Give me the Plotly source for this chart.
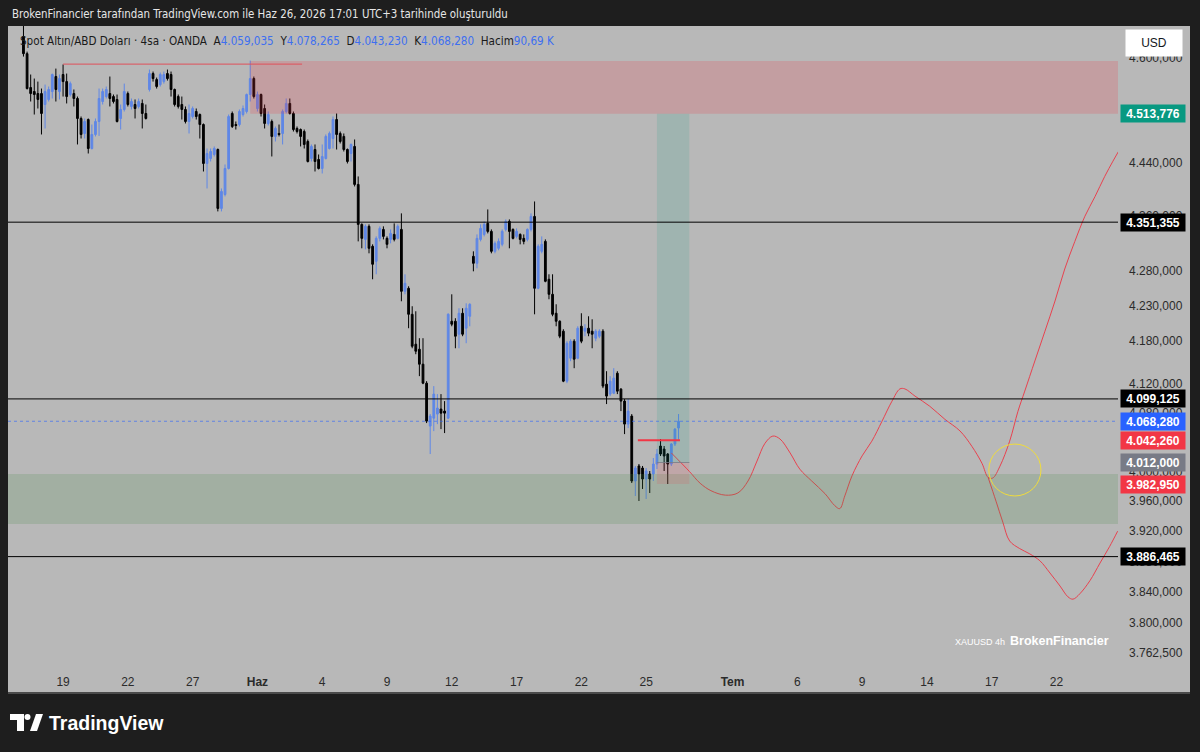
import math
import plotly.graph_objects as go

# ---------------- data (XAUUSD 4h, OANDA) ----------------
opens = [
    4632.9, 4606.3, 4553.8, 4547.7, 4544.6, 4544.6, 4527.8, 4535.5, 4547.7, 4570.8,
    4547.7, 4573.9, 4563.0, 4543.1, 4544.6, 4537.0, 4506.5, 4483.7, 4504.9, 4461.0,
    4482.2, 4501.9, 4532.4, 4540.0, 4544.6, 4540.0, 4535.5, 4506.5, 4520.2, 4544.6,
    4524.8, 4527.8, 4524.8, 4529.4, 4514.1, 4550.8, 4575.4, 4566.1, 4558.4, 4563.0,
    4575.4, 4573.9, 4550.8, 4540.0, 4527.8, 4520.2, 4501.9, 4509.5, 4517.1, 4512.5,
    4497.3, 4438.5, 4446.0, 4452.0, 4459.5, 4371.6, 4392.3, 4431.0, 4514.1, 4497.3,
    4497.3, 4512.5, 4517.1, 4543.1, 4567.7, 4521.7, 4543.1, 4521.7, 4498.9, 4501.9,
    4479.2, 4483.7, 4483.7, 4517.1, 4529.4, 4514.1, 4491.3, 4489.7, 4486.7, 4471.6,
    4446.0, 4459.5, 4444.5, 4431.0, 4446.0, 4461.0, 4476.1, 4504.9, 4483.7, 4479.2,
    4459.5, 4453.5, 4464.1, 4407.2, 4348.1, 4326.1, 4345.2, 4316.0, 4294.2, 4327.6,
    4340.7, 4327.6, 4326.1, 4333.4, 4327.6, 4340.7, 4250.9, 4255.2, 4218.0, 4175.6,
    4168.5, 4147.5, 4121.0, 4061.7, 4072.6, 4078.2, 4085.1, 4082.3, 4072.6, 4208.1,
    4208.1, 4189.7, 4219.5, 4198.2, 4215.2, 4301.4, 4291.3, 4326.1, 4333.4, 4349.6,
    4337.8, 4308.7, 4313.1, 4318.9, 4340.7, 4352.5, 4340.7, 4330.5, 4333.4, 4327.6,
    4326.1, 4340.7, 4359.8, 4255.2, 4308.7, 4323.2, 4268.2, 4246.6, 4219.5, 4208.1,
    4194.0, 4123.8, 4155.9, 4179.8, 4155.9, 4201.0, 4194.0, 4198.2, 4194.0, 4184.1,
    4186.9, 4194.0, 4119.6, 4105.8, 4107.1, 4134.9, 4112.7, 4096.1, 4064.4, 4075.4,
    3987.0, 4007.3, 4004.5, 3989.7, 3996.5, 3996.5, 4009.9, 4034.4, 4030.3, 4023.5,
    4009.9, 4037.1, 4059.035,
]
highs = [
    4660.0, 4609.4, 4573.9, 4567.7, 4563.0, 4552.3, 4558.4, 4555.4, 4575.4, 4583.1,
    4573.9, 4589.4, 4575.4, 4563.0, 4550.8, 4540.0, 4509.5, 4506.5, 4506.5, 4497.3,
    4506.5, 4552.3, 4552.3, 4555.4, 4570.8, 4543.1, 4543.1, 4527.8, 4559.9, 4547.7,
    4537.0, 4535.5, 4537.0, 4535.5, 4527.8, 4581.6, 4578.5, 4569.2, 4577.0, 4578.5,
    4581.6, 4578.5, 4552.3, 4543.1, 4540.0, 4524.8, 4527.8, 4524.8, 4521.7, 4514.1,
    4498.9, 4461.0, 4461.0, 4464.1, 4461.0, 4401.2, 4437.0, 4512.5, 4517.1, 4501.9,
    4520.2, 4526.3, 4544.6, 4595.5, 4570.8, 4547.7, 4544.6, 4527.8, 4517.1, 4504.9,
    4494.3, 4497.3, 4520.2, 4537.0, 4537.0, 4517.1, 4494.3, 4491.3, 4489.7, 4474.6,
    4467.1, 4467.1, 4452.0, 4467.1, 4482.2, 4486.7, 4509.5, 4514.1, 4486.7, 4483.7,
    4461.0, 4468.6, 4474.6, 4419.1, 4349.6, 4348.1, 4348.1, 4318.9, 4330.5, 4345.2,
    4345.2, 4330.5, 4340.7, 4349.6, 4348.1, 4364.3, 4275.4, 4258.1, 4229.5, 4222.3,
    4184.1, 4184.1, 4123.8, 4078.2, 4116.9, 4105.8, 4105.8, 4096.1, 4219.5, 4246.6,
    4212.4, 4226.6, 4226.6, 4233.7, 4233.7, 4308.7, 4333.4, 4348.1, 4352.5, 4370.1,
    4340.7, 4323.2, 4327.6, 4340.7, 4355.4, 4355.4, 4342.2, 4342.2, 4334.9, 4333.4,
    4342.2, 4364.3, 4381.9, 4318.9, 4330.5, 4326.1, 4275.4, 4275.4, 4232.3, 4209.5,
    4196.8, 4179.8, 4182.6, 4182.6, 4201.0, 4219.5, 4203.9, 4215.2, 4210.9, 4196.8,
    4196.8, 4196.8, 4137.7, 4130.8, 4141.9, 4137.7, 4114.1, 4098.9, 4098.9, 4078.2,
    4007.3, 4010.0, 4007.3, 4004.5, 4000.5, 4018.1, 4030.3, 4043.9, 4034.4, 4024.9,
    4038.5, 4058.9, 4078.265,
]
lows = [
    4601.7, 4550.8, 4532.4, 4512.5, 4521.7, 4482.2, 4491.3, 4532.4, 4537.0, 4532.4,
    4535.5, 4540.0, 4529.4, 4540.0, 4524.8, 4467.1, 4476.1, 4476.1, 4453.5, 4459.5,
    4479.2, 4480.0, 4527.8, 4537.0, 4524.8, 4529.4, 4500.4, 4489.7, 4517.1, 4524.8,
    4520.2, 4506.5, 4521.7, 4491.3, 4504.9, 4547.7, 4563.0, 4552.3, 4555.4, 4559.9,
    4564.6, 4540.0, 4524.8, 4521.7, 4504.9, 4498.9, 4483.7, 4506.5, 4504.9, 4476.1,
    4426.5, 4401.2, 4441.5, 4449.0, 4367.2, 4367.2, 4389.4, 4429.5, 4492.0, 4489.7,
    4494.3, 4509.5, 4514.1, 4532.4, 4537.0, 4517.1, 4509.5, 4491.3, 4495.8, 4449.0,
    4471.6, 4479.2, 4467.1, 4514.1, 4512.5, 4486.7, 4483.7, 4464.1, 4461.0, 4440.0,
    4441.5, 4426.5, 4429.5, 4423.5, 4444.5, 4459.5, 4461.0, 4459.5, 4468.6, 4456.5,
    4438.5, 4441.5, 4404.2, 4323.2, 4313.1, 4311.6, 4305.8, 4268.2, 4275.4, 4323.2,
    4326.1, 4313.1, 4320.3, 4323.2, 4326.1, 4236.6, 4246.6, 4198.2, 4169.9, 4161.5,
    4130.8, 4119.6, 4065.8, 4023.5, 4054.8, 4064.4, 4057.5, 4052.1, 4071.2, 4201.0,
    4169.9, 4169.9, 4186.9, 4177.0, 4201.0, 4279.7, 4284.0, 4323.2, 4330.5, 4334.9,
    4305.8, 4305.8, 4310.2, 4316.0, 4337.8, 4313.1, 4326.1, 4327.6, 4318.9, 4318.9,
    4323.2, 4337.8, 4218.0, 4253.8, 4305.8, 4263.9, 4239.5, 4215.2, 4201.0, 4184.1,
    4122.4, 4121.0, 4151.7, 4141.9, 4154.5, 4177.0, 4186.9, 4186.9, 4169.9, 4179.8,
    4184.1, 4114.1, 4092.0, 4103.0, 4105.8, 4105.8, 4082.3, 4050.7, 4058.9, 3984.3,
    3966.9, 3960.2, 3976.3, 3962.9, 3970.9, 3987.0, 4003.2, 4020.8, 4000.5, 3983.0,
    4007.3, 4034.4, 4043.23,
]
closes = [
    4606.3, 4552.3, 4544.6, 4543.1, 4535.5, 4514.1, 4547.7, 4550.8, 4573.9, 4550.8,
    4567.7, 4563.0, 4540.0, 4559.9, 4537.0, 4506.5, 4482.2, 4501.9, 4461.0, 4482.2,
    4501.9, 4537.0, 4547.7, 4550.8, 4537.0, 4532.4, 4501.9, 4520.2, 4547.7, 4527.8,
    4532.4, 4521.7, 4532.4, 4514.1, 4506.5, 4575.4, 4567.7, 4555.4, 4573.9, 4573.9,
    4567.7, 4550.8, 4527.8, 4524.8, 4520.2, 4501.9, 4514.1, 4521.7, 4509.5, 4497.3,
    4438.5, 4453.5, 4456.5, 4461.0, 4371.6, 4396.8, 4431.0, 4509.5, 4494.3, 4495.8,
    4517.1, 4521.7, 4543.1, 4567.7, 4540.0, 4543.1, 4514.1, 4498.9, 4512.5, 4479.2,
    4491.3, 4482.2, 4517.1, 4529.4, 4514.1, 4489.7, 4486.7, 4479.2, 4467.1, 4441.5,
    4464.1, 4441.5, 4431.0, 4449.0, 4479.2, 4483.7, 4504.9, 4482.2, 4471.6, 4459.5,
    4441.5, 4467.1, 4407.2, 4348.1, 4327.6, 4345.2, 4313.1, 4289.9, 4327.6, 4342.2,
    4330.5, 4318.9, 4334.9, 4326.1, 4345.2, 4250.9, 4262.4, 4218.0, 4172.7, 4165.7,
    4147.5, 4121.0, 4068.5, 4075.4, 4105.8, 4086.4, 4079.5, 4079.5, 4218.0, 4203.9,
    4186.9, 4219.5, 4189.7, 4226.6, 4232.3, 4291.3, 4327.6, 4342.2, 4348.1, 4337.8,
    4308.7, 4320.3, 4323.2, 4337.8, 4352.5, 4337.8, 4327.6, 4337.8, 4326.1, 4323.2,
    4340.7, 4359.8, 4255.2, 4316.0, 4318.9, 4265.3, 4246.6, 4218.0, 4208.1, 4186.9,
    4123.8, 4177.0, 4179.8, 4154.5, 4198.2, 4179.8, 4198.2, 4191.2, 4189.7, 4194.0,
    4194.0, 4116.9, 4103.0, 4123.8, 4128.0, 4109.9, 4096.1, 4064.4, 4082.3, 3987.0,
    4004.5, 3996.5, 3989.7, 4000.5, 3989.7, 4009.9, 4023.5, 4023.5, 4020.8, 4009.9,
    4037.1, 4057.5, 4068.28,
]
assert len(opens) == len(highs) == len(lows) == len(closes)
bar_index = list(range(len(closes)))
volume_text = "90,69 K"

# x-axis: trading-day labels (6 bars per trading day, first labelled day starts at bar 11)
first_day_bar = 11
bars_per_day = 6
tick_days = [0, 3, 6, 9, 12, 15, 18, 21, 24, 27, 31, 34, 37, 40, 43, 46]
tick_labels = ["19", "22", "27", "<b>Haz</b>", "4", "9", "12", "17", "22", "25",
               "<b>Tem</b>", "6", "9", "14", "17", "22"]
x_range = [-4.3, 304.1]

# y-axis (log scale)
price_ticks = [4600, 4520, 4440, 4360, 4280, 4230, 4180, 4120, 4080, 4000,
               3960, 3920, 3880, 3840, 3800, 3762.5]
y_range_prices = [3740.4, 4649.5]

# drawings
levels = [4351.355, 4099.125, 3886.465]
supply_zone = [63, 4513.776, 4595.0]          # start bar, low, high
supply_line = [11, 77.4, 4590.0]              # start bar, end bar, price
demand_zone = [3929.6, 3996.5]
position_bars = [176, 185]
entry_price, target_price, stop_price = 4012.0, 4513.776, 3982.95
mark_line = [170.7, 182.4, 4042.26]
last_price = 4068.28
circle_box = [268.2, 282.7, 3966.9, 4037.1]

proj_x = [180, 185, 188, 191, 195, 198.5, 201.3, 203.8, 206, 208.2, 210.2, 213, 215.7,
          219, 222.7, 225.4, 226.8, 228.2, 230.2, 233, 235.7, 238.5, 241.3, 243.5, 244.9,
          247.7, 251.8, 256, 260.2, 263.5, 266.3, 268, 269.3, 271.3, 274, 276.3, 278.2,
          281, 283.8, 286.6, 289.3, 292.1, 294.9, 297.7, 300.4, 302.7, 304.6]
proj_y = [4025, 4000, 3984, 3974, 3968, 3971, 3987, 4014, 4038, 4048, 4044, 4025, 4003,
          3987, 3970, 3954, 3950, 3967, 3994, 4021, 4041, 4068, 4096, 4113, 4113,
          4103, 4089, 4071, 4055, 4034, 4011, 3992, 3991, 4007, 4041, 4082, 4110,
          4152, 4194, 4237, 4283, 4323, 4360, 4389, 4419, 4442, 4460]
alt_x = [268, 270.2, 272.1, 274, 276.8, 279.6, 282.4, 285.2, 288, 290.2, 291.6, 293.5,
         296.3, 299.1, 301.8, 304]
alt_y = [3992, 3960, 3932, 3907, 3897, 3890, 3881, 3865, 3848, 3834, 3831, 3838,
         3855, 3878, 3900, 3920]

price_tags = [
    (4513.776, "#089981"), (4351.355, "#000000"), (4099.125, "#000000"),
    (4068.28, "#2962ff"), (4042.26, "#f23645"), (4012.0, "#787b86"),
    (3982.95, "#f23645"), (3886.465, "#000000"),
]

# ---------------- styling ----------------
BG = "#1e1e1e"
PANEL = "#b8b8b8"
BULL = "#5f87e6"
BEAR = "#000000"
FONT = "Liberation Sans, Arial, sans-serif"
NARROW = "Liberation Sans Narrow, DejaVu Sans Condensed, Roboto, sans-serif"

PL, PR, PT, PB = 8, 1118, 26, 670   # plot area in pixels
def px(x):
    return (x - PL) / (PR - PL)
def py(y):
    return (PB - y) / (PB - PT)

def tr(v):
    s = f"{v:,.3f}"
    return s.replace(",", "X").replace(".", ",").replace("X", ".")

fig = go.Figure()

fig.add_trace(go.Candlestick(
    x=bar_index, open=opens, high=highs, low=lows, close=closes,
    increasing=dict(line=dict(color=BULL, width=1), fillcolor=BULL),
    decreasing=dict(line=dict(color=BEAR, width=1), fillcolor=BEAR),
    whiskerwidth=0, showlegend=False, hoverinfo="skip",
))
fig.add_trace(go.Scatter(x=proj_x, y=proj_y, mode="lines",
                         line=dict(color="#e8424f", width=1, shape="spline"),
                         hoverinfo="skip", showlegend=False))
fig.add_trace(go.Scatter(x=alt_x, y=alt_y, mode="lines",
                         line=dict(color="#e8424f", width=1, shape="spline"),
                         hoverinfo="skip", showlegend=False))

shapes = []
# background panel
shapes.append(dict(type="rect", xref="paper", yref="paper", layer="below",
                   x0=px(8), x1=px(1190), y0=py(693), y1=py(26),
                   fillcolor=PANEL, line=dict(width=0)))
shapes.append(dict(type="line", xref="paper", yref="paper", layer="below",
                   x0=px(8), x1=px(1190), y0=py(693), y1=py(693),
                   line=dict(color="#4a4a4a", width=2)))
# zones
shapes.append(dict(type="rect", xref="x", yref="y", x0=supply_zone[0], x1=320,
                   y0=supply_zone[1], y1=supply_zone[2],
                   fillcolor="rgba(242,54,69,0.2)", line=dict(width=0)))
shapes.append(dict(type="line", xref="x", yref="y", x0=supply_line[0], x1=supply_line[1],
                   y0=supply_line[2], y1=supply_line[2],
                   line=dict(color="#e0505a", width=1)))
shapes.append(dict(type="rect", xref="x", yref="y", x0=-10, x1=320,
                   y0=demand_zone[0], y1=demand_zone[1],
                   fillcolor="rgba(76,140,76,0.2)", line=dict(width=0)))
# position tool
shapes.append(dict(type="rect", xref="x", yref="y", x0=position_bars[0], x1=position_bars[1],
                   y0=entry_price, y1=target_price,
                   fillcolor="rgba(8,153,129,0.14)", line=dict(width=0)))
shapes.append(dict(type="rect", xref="x", yref="y", x0=position_bars[0], x1=position_bars[1],
                   y0=stop_price, y1=entry_price,
                   fillcolor="rgba(242,54,69,0.14)", line=dict(width=0)))
shapes.append(dict(type="line", xref="x", yref="y", x0=position_bars[0], x1=position_bars[1],
                   y0=entry_price, y1=entry_price,
                   line=dict(color="rgba(120,123,134,0.8)", width=1)))
# horizontal levels
for lv in levels:
    shapes.append(dict(type="line", xref="paper", yref="y", x0=0, x1=1, y0=lv, y1=lv,
                       line=dict(color="#000000", width=1)))
shapes.append(dict(type="line", xref="paper", yref="y", x0=0, x1=1,
                   y0=last_price, y1=last_price,
                   line=dict(color="rgba(41,98,255,0.6)", width=1, dash="dot")))
shapes.append(dict(type="line", xref="x", yref="y", x0=mark_line[0], x1=mark_line[1],
                   y0=mark_line[2], y1=mark_line[2],
                   line=dict(color="#f23645", width=2)))
shapes.append(dict(type="circle", xref="x", yref="y",
                   x0=circle_box[0], x1=circle_box[1], y0=circle_box[2], y1=circle_box[3],
                   line=dict(color="#f0dc3c", width=1)))
# TradingView logo
def path(points):
    return "M " + " L ".join(f"{px(a):.5f},{py(b):.5f}" for a, b in points) + " Z"
shapes.append(dict(type="path", xref="paper", yref="paper",
                   path=path([(10, 714), (24, 714), (24, 731), (17, 731), (17, 720), (10, 720)]),
                   fillcolor="#ffffff", line=dict(width=0)))
shapes.append(dict(type="circle", xref="paper", yref="paper",
                   x0=px(24.5), x1=px(30.5), y0=py(720), y1=py(714),
                   fillcolor="#ffffff", line=dict(width=0)))
shapes.append(dict(type="path", xref="paper", yref="paper",
                   path=path([(30, 731), (37, 731), (43, 714), (36, 714)]),
                   fillcolor="#ffffff", line=dict(width=0)))

annotations = []
for p, col in price_tags:
    annotations.append(dict(x=px(1153), xref="paper", y=math.log10(p), yref="y",
                            text=f"<b>{tr(p)}</b>", showarrow=False, bgcolor=col,
                            font=dict(color="#ffffff", size=12, family=FONT),
                            width=62, height=15, borderpad=1,
                            xanchor="center", yanchor="middle"))
annotations.append(dict(x=px(1154), xref="paper", y=py(43), yref="paper",
                        text="USD", showarrow=False, bgcolor="#ffffff",
                        font=dict(color="#131722", size=12, family=FONT),
                        width=54, height=24, borderpad=1, xanchor="center", yanchor="middle"))
annotations.append(dict(x=px(10), xref="paper", y=py(14), yref="paper",
                        text="BrokenFinancier tarafından TradingView.com ile Haz 26, 2026 17:01 UTC+3 tarihinde oluşturuldu",
                        showarrow=False, xanchor="left", yanchor="middle",
                        font=dict(color="#e6e6e6", size=11.4, family=NARROW)))
blue = "#3d6ff0"
legend_txt = (
    "Spot Altın/ABD Doları · 4sa · OANDA  "
    f"A<span style='color:{blue}'>{tr(opens[-1])}</span>  "
    f"Y<span style='color:{blue}'>{tr(highs[-1])}</span>  "
    f"D<span style='color:{blue}'>{tr(lows[-1])}</span>  "
    f"K<span style='color:{blue}'>{tr(closes[-1])}</span>  "
    f"Hacim<span style='color:{blue}'>{volume_text}</span>"
)
annotations.append(dict(x=px(18), xref="paper", y=py(41), yref="paper",
                        text=legend_txt, showarrow=False, xanchor="left", yanchor="middle",
                        font=dict(color="#1a1a1a", size=11.6, family=NARROW)))
annotations.append(dict(x=px(953), xref="paper", y=py(642), yref="paper",
                        text="XAUUSD 4h", showarrow=False, xanchor="left", yanchor="middle",
                        font=dict(color="#ffffff", size=9, family=FONT)))
annotations.append(dict(x=px(1008), xref="paper", y=py(641), yref="paper",
                        text="<b>BrokenFinancier</b>", showarrow=False, xanchor="left",
                        yanchor="middle", font=dict(color="#ffffff", size=12.5, family=FONT)))
annotations.append(dict(x=px(47), xref="paper", y=py(723), yref="paper",
                        text="<b>TradingView</b>", showarrow=False, xanchor="left",
                        yanchor="middle", font=dict(color="#ffffff", size=19.5, family=FONT)))

fig.update_layout(
    width=1200, height=752,
    margin=dict(l=PL, r=1200 - PR, t=PT, b=752 - PB, pad=0),
    paper_bgcolor=BG, plot_bgcolor=PANEL,
    separators=",.",
    showlegend=False, hovermode=False,
    font=dict(family=FONT, color="#2b2b2b", size=12),
    shapes=shapes, annotations=annotations,
    xaxis=dict(range=x_range, tickvals=[first_day_bar + bars_per_day * d for d in tick_days],
               ticktext=tick_labels, showgrid=False, zeroline=False, showline=False,
               ticks="", rangeslider=dict(visible=False), ticklabelstandoff=3,
               tickfont=dict(size=12, color="#2b2b2b", family=FONT), fixedrange=True),
    yaxis=dict(type="log", side="right",
               range=[math.log10(y_range_prices[0]), math.log10(y_range_prices[1])],
               tickvals=price_ticks, ticktext=[tr(v) for v in price_ticks],
               showgrid=False, zeroline=False, showline=False, ticks="",
               ticklabelstandoff=10, tickfont=dict(size=12, color="#2b2b2b", family=FONT),
               fixedrange=True),
)

fig.write_html("out.html")
